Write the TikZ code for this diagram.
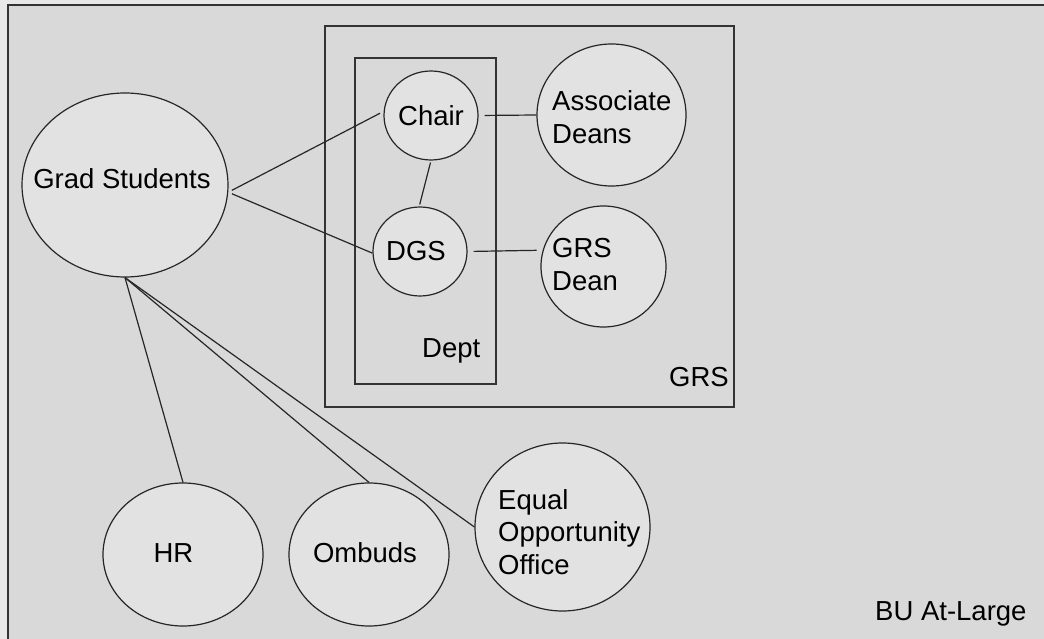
\documentclass[tikz,border=0pt]{standalone}
\usepackage{fontspec}
\setmainfont{Liberation Sans}
\usetikzlibrary{shapes.geometric}
\definecolor{outbg}{HTML}{E8E8E8}
\definecolor{inbg}{HTML}{D9D9D9}
\definecolor{ellfill}{HTML}{E2E2E2}
\definecolor{edge}{HTML}{262626}
\definecolor{framec}{HTML}{333333}
\begin{document}
\begin{tikzpicture}[x=1pt,y=-1pt,
  bubble/.style={ellipse, draw=edge, fill=ellfill, line width=1.2pt, inner sep=0pt},
  lbl/.style={anchor=base west, inner sep=0pt, font=\fontsize{27.5}{33}\selectfont, text=black},
  clbl/.style={anchor=base, inner sep=0pt, font=\fontsize{27.5}{33}\selectfont, text=black},
  link/.style={draw=edge, line width=1.2pt},
  frame/.style={draw=framec, line width=1.6pt}]
\useasboundingbox (0,0) rectangle (1044,639);
\clip (0,0) rectangle (1044,639);
\fill[outbg] (0,0) rectangle (1044,639);
\draw[frame, line width=2pt, fill=inbg] (8,5.5) rectangle (1070,670);
% containers
\draw[frame] (325,26) rectangle (734,407);
\draw[frame, line width=1.4pt] (355,58) rectangle (496,384);
% nodes
\node[bubble, minimum width=206pt, minimum height=184pt] (grad) at (125,185) {};
\node[bubble, minimum width=94pt, minimum height=89pt] (chair) at (431,115.5) {};
\node[bubble, minimum width=94pt, minimum height=89pt] (dgs) at (420,251.5) {};
\node[bubble, minimum width=149pt, minimum height=142pt] (assoc) at (611.5,115) {};
\node[bubble, minimum width=125pt, minimum height=121pt] (gdean) at (603.5,266.5) {};
\node[bubble, minimum width=160pt, minimum height=143pt] (hr) at (183,554.5) {};
\node[bubble, minimum width=160pt, minimum height=143pt] (omb) at (369,554.5) {};
\node[bubble, minimum width=175pt, minimum height=168pt] (eoo) at (562.5,527) {};
% connectors
\draw[link, shorten <=4pt, shorten >=4pt] (grad.-4.5) -- (chair.175);
\draw[link, shorten <=4pt] (grad.-4.5) -- (dgs.-178);
\draw[link, shorten <=2pt, shorten >=2pt] (chair.-90) -- (dgs.91);
\draw[link, shorten <=6pt] (chair.0) -- (assoc.180);
\draw[link, shorten <=6pt, shorten >=6pt] (dgs.0) -- (gdean.165.6);
\draw[link] (grad.-90) -- (hr.90);
\draw[link] (grad.-90) -- (omb.90);
\draw[link] (grad.-90) -- (eoo.180);
% labels
\node[clbl] (tgrad) at (122,189) {Grad Students};
\node[clbl] (tchair) at (431,126) {Chair};
\node[clbl] (tdgs) at (416,260) {DGS};
\node[lbl] (tassoc1) at (552,110.7) {Associate};
\node[lbl] (tassoc2) at (552,144) {Deans};
\node[lbl] (tgdean1) at (552,257) {GRS};
\node[lbl] (tgdean2) at (552,290) {Dean};
\node[clbl] (thr) at (173.5,562) {HR};
\node[clbl] (tomb) at (365,562) {Ombuds};
\node[lbl] (teoo1) at (498,509) {Equal};
\node[lbl] (teoo2) at (498,541) {Opportunity};
\node[lbl] (teoo3) at (498,574) {Office};
\node[lbl] (tdept) at (422,357) {Dept};
\node[lbl] (tgrs) at (669,386) {GRS};
\node[lbl] (tbu) at (875,620) {BU At-Large};
\end{tikzpicture}
\end{document}
